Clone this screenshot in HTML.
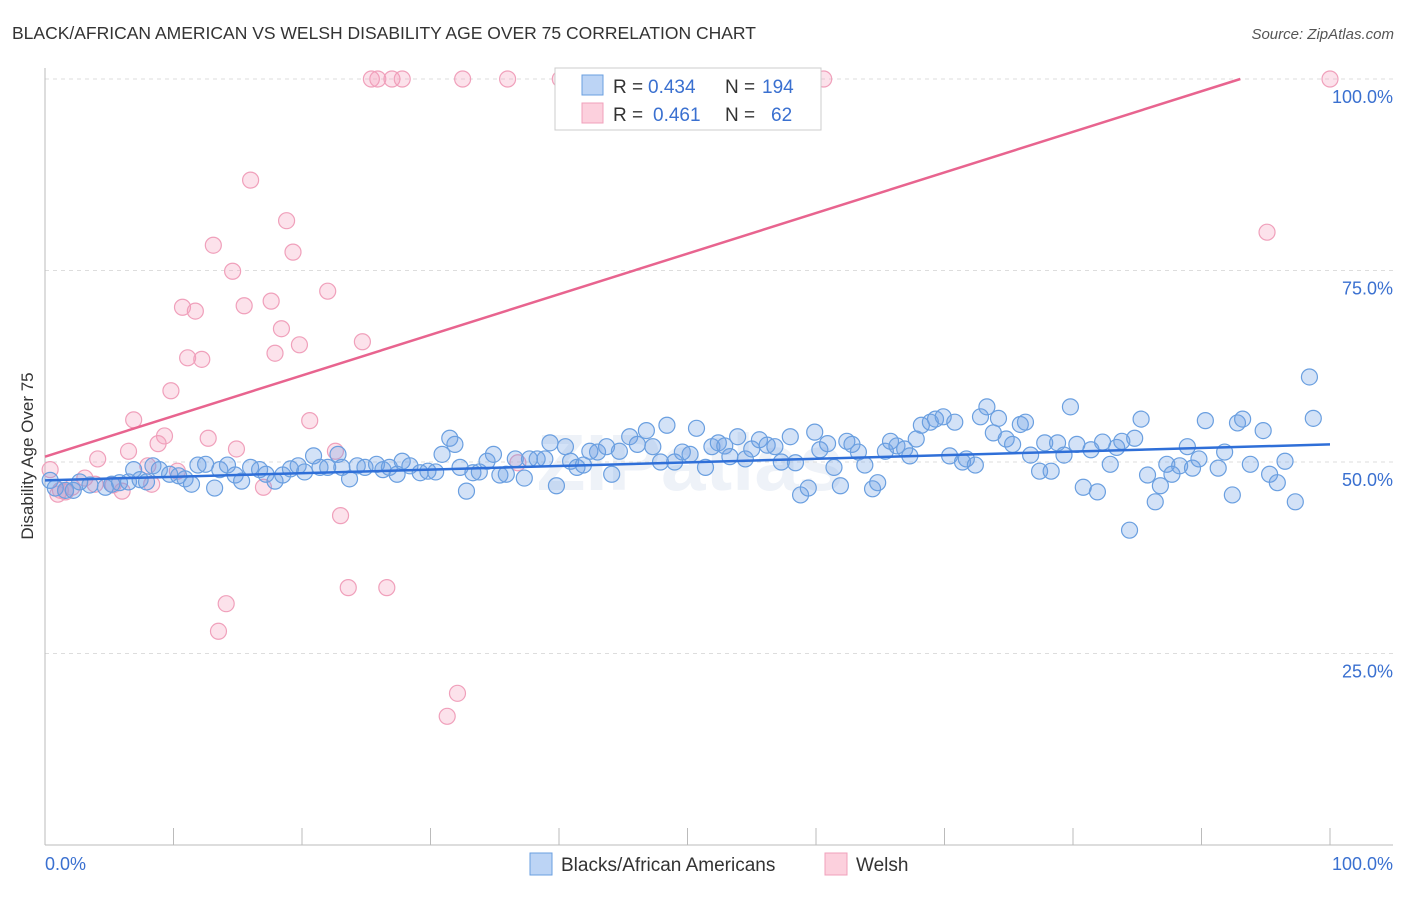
<!DOCTYPE html>
<html><head><meta charset="utf-8"><style>
body{margin:0;background:#fff;font-family:"Liberation Sans",sans-serif;}
svg text{font-family:"Liberation Sans",sans-serif;}
</style></head><body>
<svg id="chart" width="1406" height="892" viewBox="0 0 1406 892" xmlns="http://www.w3.org/2000/svg">
<text x="12" y="39" font-size="17.5" fill="#333">BLACK/AFRICAN AMERICAN VS WELSH DISABILITY AGE OVER 75 CORRELATION CHART</text>
<text x="1394" y="39" font-size="15" fill="#555" text-anchor="end" font-style="italic">Source: ZipAtlas.com</text>
<text x="690" y="490" font-size="80" fill="#eef2f8" text-anchor="middle" font-weight="bold">ZIPatlas</text>
<g id="grid"></g>
<g id="axes"></g>
<g id="points"></g>
<g id="trends"></g>
<text transform="translate(33,456) rotate(-90)" font-size="17" fill="#333" text-anchor="middle">Disability Age Over 75</text>
<g>
<rect x="555" y="68" width="266" height="62" fill="#fff" stroke="#ccc"/>
<rect x="582" y="75" width="21" height="20" fill="#bcd4f5" stroke="#6a9fe0"/>
<rect x="582" y="103" width="21" height="20" fill="#fcd0dd" stroke="#f0a0bb"/>
<text x="613" y="93" font-size="19" fill="#333">R =</text>
<text x="648" y="93" font-size="19" fill="#3a70d0">0.434</text>
<text x="725" y="93" font-size="19" fill="#333">N =</text>
<text x="762" y="93" font-size="19" fill="#3a70d0">194</text>
<text x="613" y="121" font-size="19" fill="#333">R =</text>
<text x="653" y="121" font-size="19" fill="#3a70d0">0.461</text>
<text x="725" y="121" font-size="19" fill="#333">N =</text>
<text x="771" y="121" font-size="19" fill="#3a70d0">62</text>
</g>
<g>
<rect x="530" y="853" width="22" height="22" fill="#bcd4f5" stroke="#6a9fe0"/>
<text x="561" y="871" font-size="19" fill="#333">Blacks/African Americans</text>
<rect x="825" y="853" width="22" height="22" fill="#fcd0dd" stroke="#f0a0bb"/>
<text x="856" y="871" font-size="19" fill="#333">Welsh</text>
</g>
</svg>
<script>
const blueX=[0.4,0.8,1.6,2.2,2.7,3.5,4.7,5.2,5.8,6.5,6.9,7.4,7.9,8.4,8.9,9.7,10.4,10.9,11.4,11.9,12.5,13.2,13.6,14.2,14.8,15.3,16,16.7,17.2,17.9,18.5,19.1,19.7,20.2,20.9,21.4,22,22.8,23.1,23.7,24.3,24.9,25.8,26.3,26.8,27.4,27.8,28.4,29.2,29.8,30.4,30.9,31.5,31.9,32.3,32.8,33.3,33.8,34.4,34.9,35.4,35.9,36.6,37.3,37.7,38.3,38.9,39.3,39.8,40.5,40.9,41.4,41.9,42.4,43,43.7,44.1,44.7,45.5,46.1,46.8,47.3,47.9,48.4,49,49.6,50.2,50.7,51.4,51.9,52.4,52.9,53.3,53.9,54.5,55,55.6,56.2,56.8,57.3,58,58.4,58.8,59.4,59.9,60.3,60.9,61.4,61.9,62.4,62.8,63.3,63.8,64.4,64.8,65.4,65.8,66.3,66.9,67.3,67.8,68.2,68.9,69.3,69.9,70.4,70.8,71.4,71.7,72.4,72.8,73.3,73.8,74.2,74.8,75.3,75.9,76.3,76.7,77.4,77.8,78.3,78.8,79.3,79.8,80.3,80.8,81.4,81.9,82.3,82.9,83.4,83.8,84.4,84.8,85.3,85.8,86.4,86.8,87.3,87.7,88.3,88.9,89.3,89.8,90.3,91.3,91.8,92.4,92.8,93.2,93.8,94.8,95.3,95.9,96.5,97.3,98.4,98.7];
const blueY=[47.6,46.6,46.3,46.3,47.4,47,46.7,47.1,47.3,47.4,49,47.7,47.4,49.5,49,48.4,48.2,47.8,47.1,49.6,49.7,46.6,49,49.6,48.3,47.5,49.3,49,48.4,47.5,48.3,49.1,49.5,48.7,50.8,49.3,49.3,51,49.3,47.8,49.5,49.3,49.7,49,49.3,48.4,50.1,49.5,48.6,48.8,48.7,51,53.1,52.3,49.3,46.2,48.6,48.7,50.1,51,48.3,48.4,50.4,47.9,50.4,50.4,50.4,52.5,46.9,52,50.1,49.3,49.6,51.4,51.3,52,48.4,51.4,53.3,52.3,54.1,52,50,54.8,50,51.3,51,54.4,49.3,52,52.5,52.1,50.7,53.3,50.4,51.7,52.9,52.2,52,50,53.3,49.9,45.7,46.6,53.9,51.6,52.4,49.3,46.9,52.7,52.3,51.3,49.6,46.5,47.3,51.4,52.7,52.1,51.7,50.8,53,54.8,55.2,55.6,55.9,50.8,55.2,50,50.4,49.6,55.9,57.2,53.8,55.7,53,52.3,54.9,55.2,50.9,48.8,52.5,48.8,52.5,50.9,57.2,52.3,46.7,51.6,46.1,52.6,49.7,51.9,52.7,41.1,53.1,55.6,48.3,44.8,46.9,49.7,48.4,49.5,52,49.2,50.4,55.4,49.2,51.3,45.7,55.1,55.6,49.7,54.1,48.4,47.3,50.1,44.8,61.1,55.7];
const pinkX=[25.4,25.9,27,27.8,32.5,36,40.1,60.6,100,16,18.8,19.3,13.1,14.6,22,10.7,11.7,15.5,17.6,18.4,19.8,24.7,11.1,12.2,17.9,9.8,6.9,20.6,9.3,12.7,6.5,8.8,14.9,22.6,4.1,8,10.3,36.8,3.1,3.9,5.3,6,8.3,17,1.2,0.4,2.1,23,23.6,26.6,14.1,13.5,32.1,31.3,95.1,1,1.6];
const pinkY=[100,100,100,100,100,100,100,100,100,86.8,81.5,77.4,78.3,74.9,72.3,70.2,69.7,70.4,71,67.4,65.3,65.7,63.6,63.4,64.2,59.3,55.5,55.4,53.4,53.1,51.4,52.4,51.7,51.4,50.4,49.5,48.8,49.9,47.9,47.1,47,46.2,47.1,46.7,46.3,49,46.7,43,33.6,33.6,31.5,27.9,19.8,16.8,80,45.8,46.1];
const blueTrend=[47.6,52.3];
const pinkTrend=[50.7,103.7];
const yTicks=[25,50,75,100];
const xTicks=[0,10,20,30,40,50,60,70,80,90,100];
const NS='http://www.w3.org/2000/svg';
const sx=v=>45+v*12.85, sy=v=>845-v*7.66;
function mk(tag,attrs,parent){const e=document.createElementNS(NS,tag);for(const k in attrs)e.setAttribute(k,attrs[k]);document.getElementById(parent).appendChild(e);return e;}
yTicks.forEach(t=>{
 const l=mk('line',{x1:45,x2:1393,y1:sy(t),y2:sy(t),stroke:'#ddd','stroke-dasharray':'4,4'},'grid');
 
 
 const tx=mk('text',{x:1393,y:sy(t)+24,'font-size':18,fill:'#3a70d0','text-anchor':'end'},'grid');
 tx.textContent=t.toFixed(1)+'%';
 
 
});
mk('line',{x1:45,x2:45,y1:68,y2:845,stroke:'#bbb'},'axes');
mk('line',{x1:45,x2:1393,y1:845,y2:845,stroke:'#bbb'},'axes');
xTicks.forEach(t=>{const l=mk('line',{x1:sx(t),x2:sx(t),y1:828,y2:845,stroke:'#bbb'},'axes');
 
 });
const x0=mk('text',{x:45,y:870,'font-size':18,fill:'#3a70d0'},'axes');x0.textContent='0.0%';


const x1=mk('text',{x:1393,y:870,'font-size':18,fill:'#3a70d0','text-anchor':'end'},'axes');x1.textContent='100.0%';


pinkX.forEach((v,i)=>{const c=mk('circle',{cx:sx(v),cy:sy(pinkY[i]),r:8,fill:'rgba(245,160,190,0.3)',stroke:'#f0a0bb','stroke-width':1.2},'points');
 
 });
blueX.forEach((v,i)=>{const c=mk('circle',{cx:sx(v),cy:sy(blueY[i]),r:8,fill:'rgba(110,160,230,0.3)',stroke:'#6a9fe0','stroke-width':1.2},'points');
 
 });
const bt=mk('line',{x1:sx(0),y1:sy(blueTrend[0]),x2:sx(100),y2:sy(blueTrend[1]),stroke:'#2f6fd8','stroke-width':2.5},'trends');


const xe=(100-pinkTrend[0])/(pinkTrend[1]-pinkTrend[0])*100;
const pt=mk('line',{x1:sx(0),y1:sy(pinkTrend[0]),x2:sx(xe),y2:sy(100),stroke:'#e8648f','stroke-width':2.5},'trends');


</script>
</body></html>
